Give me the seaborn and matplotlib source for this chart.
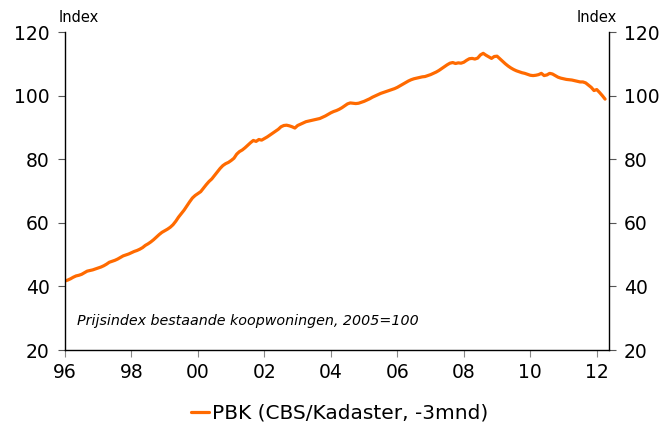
import numpy as np
import pandas as pd
import seaborn as sns
import matplotlib.pyplot as plt

pbk_1996 = [41.7, 42.0, 42.4, 42.9, 43.3, 43.5, 43.8, 44.3, 44.8, 45.0, 45.2, 45.5]
pbk_1997 = [45.8, 46.1, 46.5, 47.0, 47.6, 47.9, 48.2, 48.6, 49.1, 49.6, 49.9, 50.2]
pbk_1998 = [50.6, 51.0, 51.3, 51.7, 52.2, 52.9, 53.4, 54.0, 54.7, 55.5, 56.3, 57.0]
pbk_1999 = [57.5, 58.0, 58.6, 59.4, 60.5, 61.8, 62.9, 64.0, 65.3, 66.6, 67.8, 68.6]
pbk_2000 = [69.2, 69.8, 70.9, 72.0, 73.0, 73.8, 74.9, 76.0, 77.1, 78.0, 78.6, 79.0]
pbk_2001 = [79.6, 80.3, 81.6, 82.4, 82.9, 83.6, 84.4, 85.2, 85.9, 85.6, 86.2, 86.0]
pbk_2002 = [86.5, 87.0, 87.6, 88.2, 88.8, 89.4, 90.2, 90.6, 90.7, 90.5, 90.2, 89.8]
pbk_2003 = [90.6, 91.0, 91.4, 91.8, 92.0, 92.2, 92.4, 92.6, 92.8, 93.2, 93.6, 94.1]
pbk_2004 = [94.6, 95.0, 95.3, 95.7, 96.2, 96.8, 97.4, 97.7, 97.6, 97.5, 97.6, 97.9]
pbk_2005 = [98.2, 98.6, 99.0, 99.5, 99.9, 100.3, 100.7, 101.0, 101.3, 101.6, 101.9, 102.2]
pbk_2006 = [102.6, 103.1, 103.6, 104.1, 104.6, 105.0, 105.3, 105.5, 105.7, 105.9, 106.0, 106.3]
pbk_2007 = [106.6, 107.0, 107.4, 107.9, 108.5, 109.1, 109.7, 110.2, 110.4, 110.1, 110.3, 110.2]
pbk_2008 = [110.5, 111.1, 111.6, 111.7, 111.5, 111.8, 112.8, 113.3, 112.7, 112.2, 111.7, 112.3]
pbk_2009 = [112.4, 111.6, 110.8, 110.0, 109.3, 108.7, 108.2, 107.8, 107.5, 107.2, 107.0, 106.7]
pbk_2010 = [106.4, 106.3, 106.4, 106.6, 107.0, 106.3, 106.5, 107.0, 106.8, 106.3, 105.8, 105.5]
pbk_2011 = [105.3, 105.1, 105.0, 104.9, 104.7, 104.5, 104.3, 104.3, 104.0, 103.3, 102.6, 101.6]
pbk_2012 = [101.9, 101.0, 100.0, 98.9]

xticks = [1996, 1998, 2000, 2002, 2004, 2006, 2008, 2010, 2012]
xticklabels = ["96", "98", "00", "02", "04", "06", "08", "10", "12"]
yticks = [20, 40, 60, 80, 100, 120]

values = (pbk_1996 + pbk_1997 + pbk_1998 + pbk_1999 + pbk_2000 + pbk_2001
          + pbk_2002 + pbk_2003 + pbk_2004 + pbk_2005 + pbk_2006 + pbk_2007
          + pbk_2008 + pbk_2009 + pbk_2010 + pbk_2011 + pbk_2012)
df = pd.DataFrame({"jaar": 1996 + np.arange(len(values)) / 12.0, "index": values})

sns.set_style("white")
plt.rcParams["font.family"] = ["DejaVu Sans"]
plt.rcParams["text.color"] = "black"
plt.rcParams["xtick.color"] = "black"
plt.rcParams["ytick.color"] = "black"

fig = plt.figure(figsize=(6.66, 4.24), dpi=100)
ax = fig.add_axes([0.0976, 0.1745, 0.8164, 0.75])

sns.lineplot(data=df, x="jaar", y="index", color="#ff6a00", linewidth=2.3,
             label="PBK (CBS/Kadaster, -3mnd)", legend=False, ax=ax)

ax.set_xlim(1996, 2012.36)
ax.set_ylim(20, 120)
ax.set_xticks(xticks)
ax.set_xticklabels(xticklabels)
ax.set_yticks(yticks)
ax.set_xlabel("")
ax.set_ylabel("")

for side in ["left", "right", "bottom"]:
    ax.spines[side].set_visible(True)
    ax.spines[side].set_color("black")
    ax.spines[side].set_linewidth(1.0)
ax.spines["top"].set_visible(False)

ax.tick_params(axis="y", which="both", left=True, right=True, labelleft=True,
               labelright=True, direction="out", length=5, color="#555555",
               labelcolor="black", labelsize=13.5, pad=6)
ax.tick_params(axis="x", bottom=True, direction="out", length=5,
               color="#888888", labelcolor="black", labelsize=13.5, pad=4)

fig.text(0.088, 0.94, "Index", fontsize=10.5, ha="left", va="bottom")
fig.text(0.926, 0.94, "Index", fontsize=10.5, ha="right", va="bottom")

ax.text(1996.35, 29, "Prijsindex bestaande koopwoningen, 2005=100",
        fontsize=10.3, style="italic", ha="left", va="center")

handles, labels = ax.get_legend_handles_labels()
fig.legend(handles, labels, loc="lower center", bbox_to_anchor=(0.51, -0.04),
           frameon=False, fontsize=14.5, handlelength=0.9, handletextpad=0.15)

fig.savefig("out.png", dpi=100)
